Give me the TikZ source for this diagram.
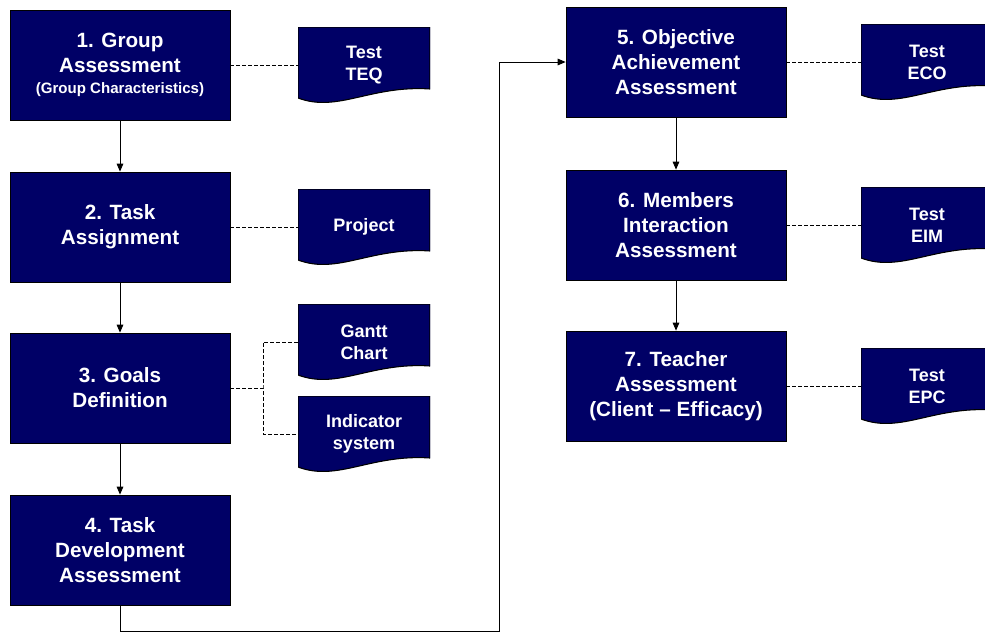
\documentclass[tikz,border=0pt]{standalone}
\usepackage{fontspec}
\setmainfont{Liberation Sans}
\usepackage{tikz}
\usetikzlibrary{arrows.meta}
\definecolor{navy}{RGB}{0,0,102}

\tikzset{
  stage/.style={draw=black, line width=0.6pt, fill=navy, text=white,
    font=\bfseries\fontsize{15.5}{18.8}\selectfont, align=center,
    minimum width=165pt, minimum height=82.5pt, inner sep=0pt},
  doc/.style={text=white, font=\bfseries\fontsize{13.5}{16.5}\selectfont,
    align=center, minimum width=99pt, minimum height=57pt, inner sep=0pt,
    path picture={
      \filldraw[fill=navy, draw=black, line width=0.8pt]
        (path picture bounding box.north west) -- ++(99pt,0pt) -- ++(0pt,-46.5pt)
        .. controls +(-44.55pt,3pt) and +(29.7pt,-11.25pt) .. ++(-99pt,-6.75pt) -- cycle;}},
  flow/.style={-{Triangle[length=6pt,width=5pt]}, line width=0.6pt},
  link/.style={dash pattern=on 2.5pt off 2pt, line width=0.6pt}
}

\begin{document}
\begin{tikzpicture}[x=0.75pt, y=-0.75pt]
\useasboundingbox (0,0) rectangle (985,632);

% left column
\node[stage] (grp) at (120,65) {1. Group\\ Assessment\\[-3pt] {\fontsize{11.3}{14}\selectfont (Group Characteristics)}};
\node[stage] (task) at (120,227) {2. Task\\ Assignment};
\node[stage] (goals) at (120,388) {3. Goals\\ Definition};
\node[stage] (dev) at (120,550) {4. Task\\ Development\\ Assessment};

% right column
\node[stage] (obj) at (676,62) {5. Objective\\ Achievement\\ Assessment};
\node[stage] (memb) at (676,225) {6. Members\\ Interaction\\ Assessment};
\node[stage] (teach) at (676,386) {7. Teacher\\ Assessment\\ (Client -- Efficacy)};

% documents
\node[doc] (teq) at (364,65) {Test\\ TEQ};
\node[doc] (proj) at (364,227) {Project};
\node[doc] (gantt) at (364,342) {Gantt\\ Chart};
\node[doc] (indic) at (364,434) {Indicator\\ system};
\node[doc] (eco) at (927,62) {Test\\ ECO};
\node[doc] (eim) at (927,225) {Test\\ EIM};
\node[doc] (epc) at (927,386) {Test\\ EPC};

\coordinate (low) at (499,631);
\coordinate (split) at (263,388);

\draw[flow] (grp) -- (task);
\draw[flow] (task) -- (goals);
\draw[flow] (goals) -- (dev);
\draw[flow] (dev.south) |- (low) |- (obj.west);
\draw[flow] (obj) -- (memb);
\draw[flow] (memb) -- (teach);

\draw[link] (grp) -- (teq);
\draw[link] (task) -- (proj);
\draw[link] (goals.east) -- (split);
\draw[link] (gantt.west) -| (split) |- (indic.west);
\draw[link] (obj) -- (eco);
\draw[link] (memb) -- (eim);
\draw[link] (teach) -- (epc);
\end{tikzpicture}
\end{document}
